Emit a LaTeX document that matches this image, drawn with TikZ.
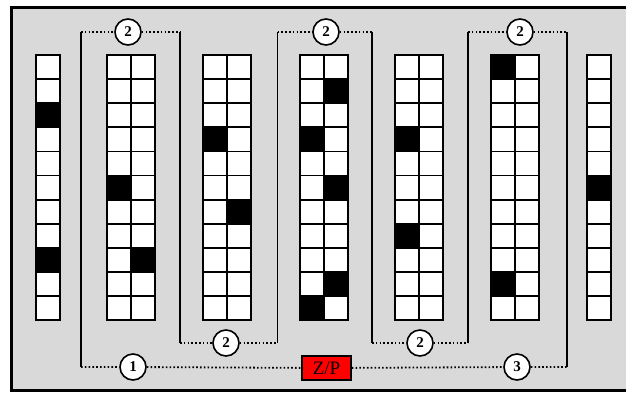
\documentclass[tikz,border=0pt]{standalone}
\usepackage{fontspec}
\setmainfont{Liberation Serif}
\definecolor{panelgray}{HTML}{D9D9D9}
\begin{document}
\begin{tikzpicture}[x=1pt,y=-1pt,
 cellbox/.style={draw=black,line width=1.8pt,fill=white},
 blackcell/.style={draw=black,line width=1.8pt,fill=black},
 wire/.style={line width=1.8pt},
 dotwire/.style={line width=1.8pt,dash pattern=on 1.6pt off 2.2pt},
 num/.style={circle,draw,line width=1.6pt,fill=white,minimum size=26pt,inner sep=0pt,font=\bfseries\fontsize{15}{15}\selectfont},
 zpbox/.style={draw,line width=1.4pt,fill=red,minimum width=49pt,minimum height=24pt,inner sep=0pt,font=\fontsize{19}{19}\selectfont}]
\useasboundingbox (0,0) rectangle (626,392);
% panel
\fill[panelgray] (11,7) rectangle (640,390);
\draw[line width=3pt] (640,7) -- (11,7) -- (11,390) -- (640,390);
% grids
\def\rh{24.1}
\foreach \x/\n in {36/1,107/2,203/2,300/2,395/2,491/2,587/1}{
  \foreach \r in {0,...,10}{
    \foreach \c in {1,...,\n}{
      \draw[cellbox] ({\x+(\c-1)*24},{55+\r*\rh}) rectangle ++(24,\rh);
    }
  }
}
\foreach \x/\c/\r in {36/0/2,36/0/8,107/0/5,107/1/8,203/0/3,203/1/6,300/1/1,300/0/3,300/1/5,300/1/9,300/0/10,395/0/3,395/0/7,491/0/0,491/0/9,587/0/5}{
  \draw[blackcell] ({\x+\c*24},{55+\r*\rh}) rectangle ++(24,\rh);
}
% wire corners
\coordinate (t1) at (81,32);
\coordinate (t2) at (180,32);
\coordinate (t3) at (277.5,32);
\coordinate (t4) at (372,32);
\coordinate (t5) at (468,32);
\coordinate (t6) at (567,32);
\coordinate (b1) at (81,367);
\coordinate (b2) at (180,343);
\coordinate (b3) at (277.5,343);
\coordinate (b4) at (372,343);
\coordinate (b5) at (468,343);
\coordinate (b6) at (567,367);
% vertical wires
\draw[wire] (t1) -- (b1);
\draw[wire] (t2) -- (b2);
\draw[wire] (t3) -- (b3);
\draw[wire] (t4) -- (b4);
\draw[wire] (t5) -- (b5);
\draw[wire] (t6) -- (b6);
% labelled nodes
\node[num] (n2a) at (128,32) {2};
\node[num] (n2b) at (326,32) {2};
\node[num] (n2c) at (520,32) {2};
\node[num] (n2d) at (226,343) {2};
\node[num] (n2e) at (420,343) {2};
\node[num] (n1) at (133,367) {1};
\node[zpbox] (zp) at (326.5,368) {Z/P};
\node[num] (n3) at (517,367) {3};
% dotted connectors
\draw[dotwire] (t1) -- (n2a) -- (t2);
\draw[dotwire] (t3) -- (n2b) -- (t4);
\draw[dotwire] (t5) -- (n2c) -- (t6);
\draw[dotwire] (b2) -- (n2d) -- (b3);
\draw[dotwire] (b4) -- (n2e) -- (b5);
\draw[dotwire] (b1) -- (n1) -- (zp) -- (n3) -- (b6);
\end{tikzpicture}
\end{document}
